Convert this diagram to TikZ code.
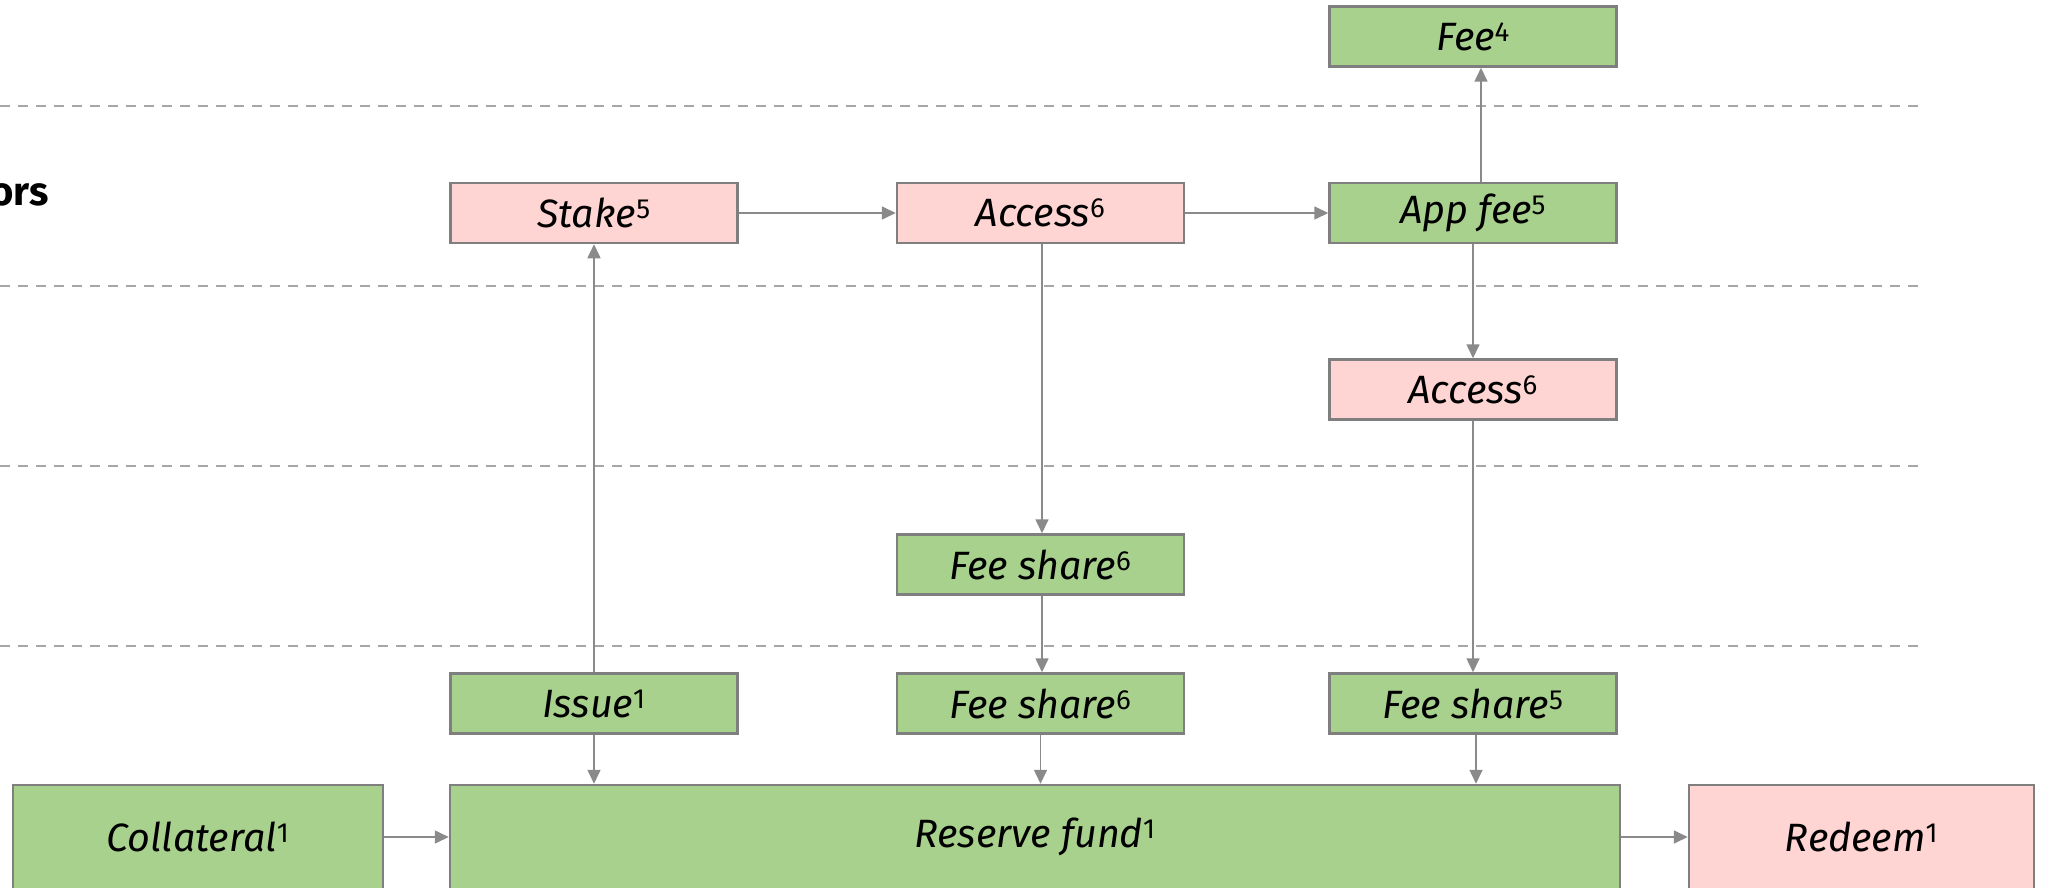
\documentclass[tikz,border=0pt]{standalone}
\usepackage{fontspec}
\setmainfont{Fira Sans}
\usetikzlibrary{arrows.meta}
\definecolor{boxgreen}{HTML}{A9D18E}
\definecolor{boxpink}{HTML}{FFD5D3}
\definecolor{bordergray}{HTML}{7F7F7F}
\definecolor{arrowgray}{HTML}{8A8A8A}
\definecolor{dashgray}{HTML}{A6A6A6}
\newcommand{\sups}[1]{\textsuperscript{\upshape #1}}
\tikzset{
  flowbox/.style={draw=bordergray, line width=2.5pt, inner sep=0pt,
    minimum width=287pt, minimum height=60pt,
    font=\fontsize{39.5}{42}\selectfont\itshape, text=black},
  greenbox/.style={flowbox, fill=boxgreen},
  pinkbox/.style={flowbox, fill=boxpink},
  bigbox/.style={minimum height=104pt},
  flowarrow/.style={draw=arrowgray, line width=1.6pt,
    -{Triangle[length=14pt,width=13pt]}},
  lanesep/.style={draw=dashgray, line width=2.5pt, dash pattern=on 10pt off 8pt},
}
\begin{document}
\begin{tikzpicture}[x=1pt,y=-1pt]
\useasboundingbox (0,0) rectangle (2047,888);
\clip (0,0) rectangle (2047,888);
\fill[white] (0,0) rectangle (2047,888);

% lane separators
\coordinate (l1a) at (0,106);  \coordinate (l1b) at (1922,106);
\coordinate (l2a) at (0,286);  \coordinate (l2b) at (1922,286);
\coordinate (l3a) at (0,466);  \coordinate (l3b) at (1922,466);
\coordinate (l4a) at (0,646);  \coordinate (l4b) at (1922,646);
\draw[lanesep] (l1a) -- (l1b);
\draw[lanesep] (l2a) -- (l2b);
\draw[lanesep] (l3a) -- (l3b);
\draw[lanesep] (l4a) -- (l4b);

% lane label (cut off at the left edge, as in the reference)
\node[anchor=base east, inner sep=0pt, font=\fontsize{40}{44}\selectfont\bfseries] (lanelabel) at (49,205) {ors};

% boxes
\node[greenbox] (fee) at (1473,36.5) {Fee\sups{4}};
\node[pinkbox] (stake) at (594,213) {Stake\sups{5}};
\node[pinkbox] (access1) at (1040.5,213) {Access\sups{6}};
\node[greenbox] (appfee) at (1473,213) {App fee\sups{5}};
\node[pinkbox] (access2) at (1473,389.5) {Access\sups{6}};
\node[greenbox] (fsmid) at (1040.5,564.5) {Fee share\sups{6}};
\node[greenbox] (issue) at (594,703.5) {Issue\sups{1}};
\node[greenbox] (fsb6) at (1040.5,703.5) {Fee share\sups{6}};
\node[greenbox] (fsb5) at (1473,703.5) {Fee share\sups{5}};
\node[greenbox, bigbox, minimum width=370pt] (collateral) at (198,837) {Collateral\sups{1}};
\node[greenbox, bigbox, minimum width=1170pt] (reserve) at (1035,837) {Reserve fund\sups{1}};
\node[pinkbox, bigbox, minimum width=345pt] (redeem) at (1861.5,837) {Redeem\sups{1}};

% connectors
\draw[flowarrow] (stake.east) -- (access1.west);
\draw[flowarrow] (access1.east) -- (appfee.west);
\draw[flowarrow] (appfee.north -| 1481,0) -- (fee.south -| 1481,0);
\draw[flowarrow] (appfee.south) -- (access2.north);
\draw[flowarrow] (access1.south -| 1042,0) -- (fsmid.north -| 1042,0);
\draw[flowarrow] (fsmid.south -| 1042,0) -- (fsb6.north -| 1042,0);
\draw[flowarrow] (access2.south) -- (fsb5.north);
\draw[flowarrow] (issue.north) -- (stake.south);
\draw[flowarrow] (issue.south) -- (reserve.north -| issue.south);
\draw[flowarrow] (fsb6.south) -- (reserve.north -| fsb6.south);
\draw[flowarrow] (fsb5.south -| 1476,0) -- (reserve.north -| 1476,0);
\draw[flowarrow] (collateral.east) -- (reserve.west);
\draw[flowarrow] (reserve.east) -- (redeem.west);
\end{tikzpicture}
\end{document}
